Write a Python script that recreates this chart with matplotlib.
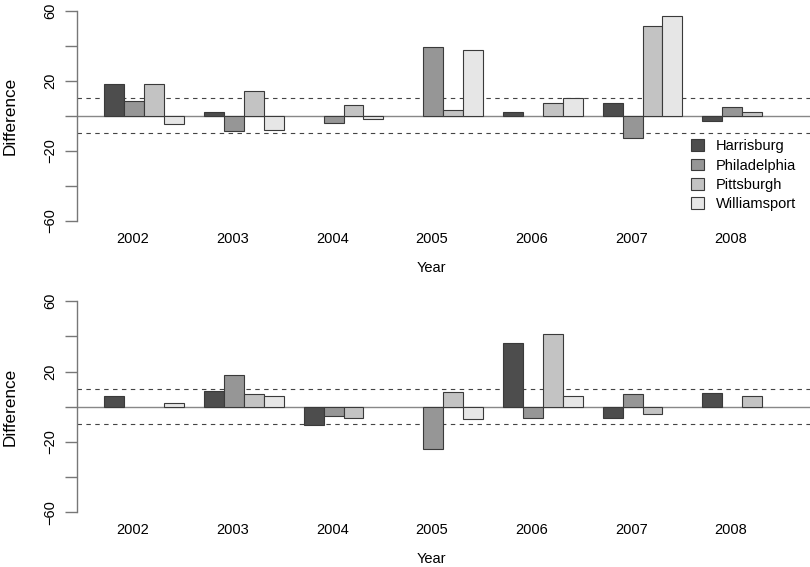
import numpy as np
import matplotlib
matplotlib.use("Agg")
import matplotlib.pyplot as plt
from matplotlib.patches import Patch

plt.rcParams['font.family'] = ['Liberation Sans', 'DejaVu Sans']

years = ['2002', '2003', '2004', '2005', '2006', '2007', '2008']
cities = ['Harrisburg', 'Philadelphia', 'Pittsburgh', 'Williamsport']
colors = ['#4d4d4d', '#969696', '#c3c3c3', '#e6e6e6']

# top panel, one list per city (values per year)
top_harrisburg = [18.3, 2.3, 0, 0, 2.3, 7.2, -3.0]
top_philadelphia = [8.2, -8.9, -3.8, 39.4, 0, -12.9, 5.1]
top_pittsburgh = [18.3, 14.4, 6.3, 3.4, 7.4, 51.5, 2.3]
top_williamsport = [-4.9, -8.0, -1.7, 37.3, 10.3, 56.7, 0]

# bottom panel
bot_harrisburg = [6.1, 9.1, -10.2, 0, 36.2, -6.1, 8.0]
bot_philadelphia = [0, 18.0, -5.1, -24.1, -6.1, 7.0, 0]
bot_pittsburgh = [0, 7.0, -6.1, 8.2, 41.4, -4.2, 5.9]
bot_williamsport = [1.9, 6.1, 0, -7.2, 5.9, 0, 0]

threshold = 10

fig = plt.figure(figsize=(8.1, 5.67), dpi=100)
W, H = 810, 567


def panel(rect_px, series, legend=False):
    x0, ytop, x1, ybot = rect_px
    ax = fig.add_axes([x0 / W, 1 - ybot / H, (x1 - x0) / W, (ybot - ytop) / H])
    starts = 1 + 5 * np.arange(len(years))
    for j, vals in enumerate(series):
        vals = np.array(vals)
        keep = vals != 0  # zero bars don't show up
        ax.bar((starts + j)[keep], vals[keep], width=1, align='edge', color=colors[j],
               edgecolor='#3a3a3a', linewidth=0.8, zorder=3)
    ax.axhline(0, color='#888888', linewidth=1.0, zorder=2)
    ax.axhline(threshold, color='#444444', linewidth=0.8, dashes=(4, 4), zorder=2)
    ax.axhline(-threshold, color='#444444', linewidth=0.8, dashes=(4, 4), zorder=2)
    ax.set_xlim(-0.37, 36.4)
    ax.set_ylim(-60, 60)
    for s in ['top', 'right', 'bottom']:
        ax.spines[s].set_visible(False)
    ax.spines['left'].set_color('#777777')
    ax.spines['left'].set_linewidth(1.0)
    ax.set_yticks([-60, -40, -20, 0, 20, 40, 60])
    ax.set_yticklabels(['\u221260', '', '\u221220', '', '20', '', '60'],
                       rotation=90, va='center', fontsize=10.5)
    ax.tick_params(axis='y', length=9, width=1.0, color='#777777', pad=5)
    ax.set_xticks(starts + 1.43)
    ax.set_xticklabels(years, fontsize=10.5)
    ax.tick_params(axis='x', length=0, pad=8)
    ax.set_xlabel('Year', fontsize=10.5)
    ax.xaxis.set_label_coords(0.484, -0.19)
    ax.set_ylabel('Difference', fontsize=12.3)
    ax.yaxis.set_label_coords(-0.0805, 0.5)
    if legend:
        handles = [Patch(facecolor=c, edgecolor='#3a3a3a', linewidth=0.8) for c in colors]
        ax.legend(handles, cities, loc='upper left', bbox_to_anchor=(684 / W, 1 - 132 / H),
                  bbox_transform=fig.transFigure, frameon=False, fontsize=10.5,
                  handlelength=0.85, handleheight=0.85, handletextpad=0.85,
                  labelspacing=0.36, borderpad=0)
    return ax


panel((77, 10.7, 810, 221.0),
      [top_harrisburg, top_philadelphia, top_pittsburgh, top_williamsport], legend=True)
panel((77, 301.3, 810, 512.3),
      [bot_harrisburg, bot_philadelphia, bot_pittsburgh, bot_williamsport])

fig.savefig('out.png', dpi=100)
